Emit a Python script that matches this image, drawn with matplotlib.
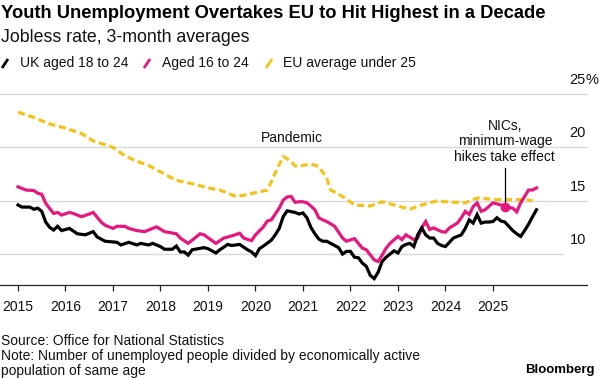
import matplotlib
matplotlib.use("Agg")
import matplotlib.pyplot as plt
from matplotlib import transforms
from matplotlib.lines import Line2D
import numpy as np

plt.rcParams['font.family'] = ['Liberation Sans', 'DejaVu Sans']

# months counted from Jan 2015, values in %
uk18_month = [0, 1, 3, 4, 5, 6, 7, 8, 9, 10, 11, 13, 15, 17, 19, 20, 22, 25, 26, 28,
              30, 31, 33, 34, 36, 37, 39, 40, 41, 42, 43, 44, 47, 48, 50, 51, 53, 54, 56, 58,
              59, 60, 61, 62, 64, 65, 66, 67, 68, 70, 71, 72, 73, 74, 75, 76, 77, 78, 80, 81,
              82, 83, 84, 85, 86, 87, 88, 89, 90, 91, 92, 93, 94, 95, 96, 97, 98, 99, 100, 101,
              102, 103, 104, 105, 106, 107, 108, 109, 110, 111, 112, 113, 114, 115, 116, 117, 118, 119, 120, 121,
              122, 123, 124, 125, 126, 127, 128, 129, 130, 131]
uk18_rate = [14.6, 14.4, 14.4, 14.2, 14.3, 14.0, 13.0, 12.5, 12.25, 12.6, 12.2, 12.4, 11.9, 11.8, 12.1, 11.6, 11.2, 11.1, 10.85, 11.1,
             10.85, 11.0, 10.85, 11.0, 10.7, 10.45, 10.45, 10.75, 10.2, 10.2, 9.9, 10.4, 10.6, 10.5, 10.1, 10.4, 10.9, 10.8, 10.9, 10.4,
             10.2, 9.85, 10.5, 10.75, 11.3, 11.8, 12.4, 13.5, 14.05, 13.9, 13.75, 13.85, 13.4, 12.5, 11.9, 11.4, 11.2, 11.2, 10.8, 10.6,
             10.0, 10.25, 10.25, 9.7, 9.65, 9.15, 8.85, 8.0, 7.7, 8.3, 9.3, 9.7, 10.0, 10.3, 10.1, 10.7, 10.9, 11.0, 10.7, 11.8,
             12.45, 11.8, 11.5, 11.5, 11.0, 10.8, 10.7, 11.1, 11.5, 11.65, 11.8, 12.4, 13.2, 12.9, 13.7, 12.9, 13.0, 13.0, 13.05, 13.4,
             13.1, 13.0, 12.6, 12.2, 11.9, 11.65, 12.2, 12.8, 13.5, 14.15]

uk16_month = [0, 2, 4, 5, 6, 7, 9, 10, 11, 13, 14, 16, 18, 19, 21, 22, 24, 25, 27, 28,
              30, 32, 35, 37, 40, 41, 43, 44, 46, 47, 50, 52, 54, 56, 57, 59, 60, 62, 63, 64,
              66, 67, 68, 69, 70, 71, 72, 73, 74, 75, 76, 77, 78, 80, 82, 83, 85, 86, 87, 88,
              90, 91, 92, 93, 94, 96, 97, 98, 100, 101, 102, 103, 104, 105, 107, 108, 109, 111, 112, 113,
              114, 115, 116, 117, 118, 120, 121, 122, 123, 125, 126, 127, 129, 130, 131]
uk16_rate = [16.3, 16.0, 15.95, 15.7, 15.6, 14.75, 13.8, 13.9, 13.65, 13.9, 13.8, 13.5, 13.75, 13.9, 13.0, 12.7, 12.4, 12.6, 12.6, 12.4,
             12.2, 12.1, 12.55, 12.1, 11.9, 11.5, 11.0, 11.3, 11.9, 11.8, 11.0, 11.5, 11.7, 11.95, 11.5, 11.25, 11.8, 12.55, 13.1, 13.2,
             14.3, 15.05, 15.35, 15.4, 14.85, 14.9, 14.9, 14.8, 14.5, 14.15, 13.4, 13.2, 13.05, 12.6, 11.5, 11.2, 11.45, 11.0, 10.55, 10.4,
             9.45, 9.3, 9.9, 10.55, 11.0, 11.65, 11.35, 11.8, 11.35, 11.5, 12.45, 13.05, 12.3, 12.45, 12.1, 12.05, 12.45, 12.9, 13.4, 14.0,
             13.7, 14.45, 14.8, 14.0, 14.15, 14.8, 14.7, 14.6, 14.45, 14.3, 13.95, 14.8, 16.0, 16.0, 16.2]

eu_month = [0, 4, 8, 12, 16, 19, 24, 27, 30, 33, 36, 40, 44, 48, 51, 55, 57, 60, 63, 65,
            67, 69, 70, 72, 74, 76, 78, 79, 82, 85, 89, 92, 96, 99, 102, 106, 108, 113, 116, 121,
            125, 128, 130]
eu_rate = [23.3, 22.8, 22.2, 21.8, 21.3, 20.6, 20.0, 19.2, 18.7, 18.3, 17.7, 16.9, 16.6, 16.2, 16.0, 15.4, 15.5, 15.75, 16.0, 17.6,
           19.15, 18.7, 18.25, 18.3, 18.45, 18.2, 17.1, 16.0, 15.4, 14.6, 14.5, 14.9, 14.5, 14.2, 14.6, 15.0, 14.9, 14.8, 15.25, 15.1,
           15.1, 15.1, 15.0]

years = list(range(2015, 2026))
yticks = [10, 15, 20, 25]
ylabels = ['10', '15', '20', '25']
series_names = ['UK aged 18 to 24', 'Aged 16 to 24', 'EU average under 25']

nics_month = 123   # April 2025

BLACK = '#000000'
PINK = '#e6177d'
YELLOW = '#f2c318'
GRID = '#d9d9d9'


def to_year(months):
    return 2015 + np.asarray(months) / 12.0


W, H = 600, 379
fig = plt.figure(figsize=(W / 100, H / 100), dpi=100)
ax = fig.add_axes([0, 1 - 285.3 / H, 587 / W, (285.3 - 94) / H])
ax.set_xlim(2014.621, 2026.98)
ax.set_ylim(7.07, 25)

for v in yticks:
    xmax = 563 / 587 if v == 10 else 1.0
    ax.axhline(v, color=GRID, lw=1.0, xmax=xmax, zorder=0, clip_on=False)

ax.plot(to_year(eu_month), eu_rate, color=YELLOW, lw=2.3, ls=(0, (2.2, 1.2)),
        dash_capstyle='butt', zorder=2)
ax.plot(to_year(uk16_month), uk16_rate, color=PINK, lw=2.3, zorder=3,
        solid_joinstyle='miter')
ax.plot(to_year(uk18_month), uk18_rate, color=BLACK, lw=2.3, zorder=4,
        solid_joinstyle='miter')

# NICs annotation
i = uk16_month.index(nics_month)
nx, ny = to_year(nics_month), uk16_rate[i]
ax.plot([nx], [ny], 'o', color=PINK, ms=6, zorder=5)
ax.plot([nx, nx], [ny, 18.1], color=BLACK, lw=0.9, zorder=4)
ax.text(nx, 18.45, 'NICs,\nminimum-wage\nhikes take effect', ha='center', va='bottom',
        fontsize=10, linespacing=1.15, color='#111111')
ax.text(2020.76, 20.84, 'Pandemic', ha='center', va='center', fontsize=10, color='#111111')

# axes styling
for s in ['top', 'right', 'left']:
    ax.spines[s].set_visible(False)
ax.spines['bottom'].set_color('#222222')
ax.spines['bottom'].set_linewidth(0.9)
ax.set_yticks([])
ax.set_xticks(years)
ax.set_xticklabels([str(y) for y in years], fontsize=10, color='#111111')
ax.tick_params(axis='x', length=4.5, width=0.9, color='#222222', pad=6)

# right-hand value labels sitting above the gridlines
off = transforms.ScaledTranslation(-1 / 100, 9.9 / 100, fig.dpi_scale_trans)
btr = transforms.blended_transform_factory(ax.transAxes, ax.transData) + off
for v, lab in zip(yticks, ylabels):
    ax.text(1.0, v, lab, transform=btr, ha='right', va='baseline', fontsize=10.5,
            color='#111111', clip_on=False)
ax.text(1.0, yticks[-1], '%', transform=btr, ha='left', va='baseline', fontsize=10.5,
        color='#111111', clip_on=False)

# header
fig.text(1 / W, 1 - 13.5 / H, 'Youth Unemployment Overtakes EU to Hit Highest in a Decade',
         fontsize=13.2, fontweight='bold', va='center', ha='left', color='#000000')
fig.text(1 / W, 1 - 38 / H, 'Jobless rate, 3-month averages', fontsize=12.8,
         va='center', ha='left', color='#111111')

# legend: short slashes + labels
leg_y = 1 - 63.5 / H
for name, col, sx, tx in zip(series_names, [BLACK, PINK, YELLOW], [5, 147, 269], [20, 162, 283]):
    fig.add_artist(Line2D([(sx - 3) / W, (sx + 3) / W], [leg_y - 4.5 / H, leg_y + 4.5 / H],
                          color=col, lw=2.0, solid_capstyle='butt'))
    fig.text(tx / W, leg_y, name, fontsize=10, va='center', ha='left', color='#111111')

# footer
fig.text(1 / W, 1 - 341 / H, 'Source: Office for National Statistics', fontsize=10,
         va='center', ha='left', color='#111111')
fig.text(1 / W, 1 - 356 / H, 'Note: Number of unemployed people divided by economically active',
         fontsize=10, va='center', ha='left', color='#111111')
fig.text(1 / W, 1 - 371 / H, 'population of same age', fontsize=10, va='center', ha='left',
         color='#111111')
fig.text(595 / W, 1 - 370 / H, 'Bloomberg', fontsize=9.5, fontweight='bold', va='center',
         ha='right', color='#000000')

fig.savefig('out.png', dpi=100)
